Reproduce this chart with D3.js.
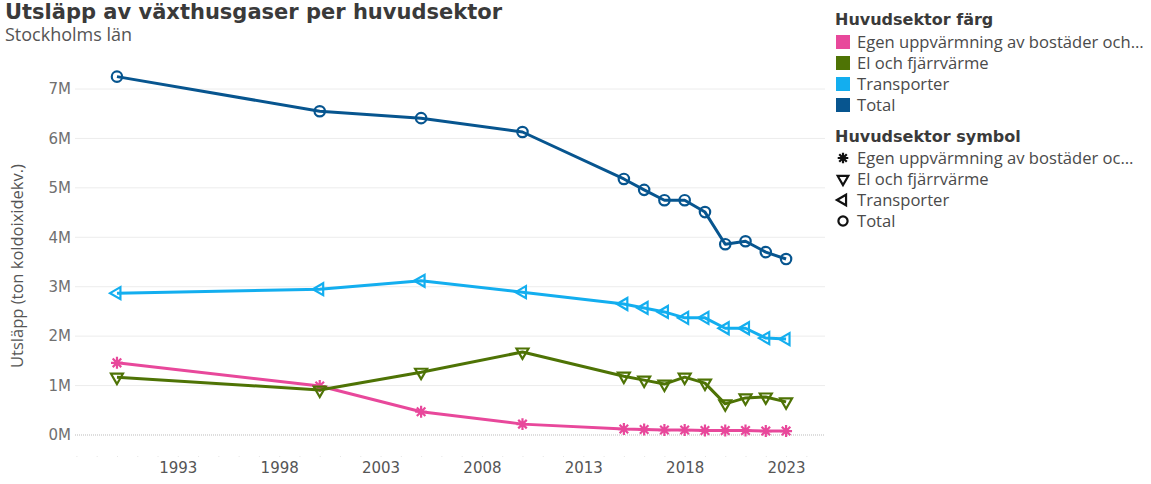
<!DOCTYPE html>
<html>
<head>
<meta charset="utf-8">
<script src="https://cdn.jsdelivr.net/npm/d3@7"></script>
<style>
  body { margin: 0; background: #fff; }
  svg { display: block; }
</style>
</head>
<body>
<div id="chart"></div>
<script>
// data
var years = [1990, 2000, 2005, 2010, 2015, 2016, 2017, 2018, 2019, 2020, 2021, 2022, 2023];
var egenUppvarmning = [1.46, 0.99, 0.47, 0.22, 0.12, 0.11, 0.10, 0.10, 0.09, 0.09, 0.09, 0.08, 0.08];
var elFjarrvarme = [1.17, 0.91, 1.27, 1.68, 1.19, 1.11, 1.03, 1.17, 1.05, 0.63, 0.75, 0.77, 0.67];
var transporter = [2.87, 2.95, 3.12, 2.89, 2.65, 2.57, 2.49, 2.37, 2.37, 2.16, 2.16, 1.96, 1.94];
var total = [7.25, 6.55, 6.41, 6.13, 5.18, 4.96, 4.75, 4.75, 4.51, 3.86, 3.92, 3.70, 3.56];
var yTicks = [0, 1, 2, 3, 4, 5, 6, 7];
var xTicks = [1993, 1998, 2003, 2008, 2013, 2018, 2023];
var sectorNames = ["Egen uppvärmning av bostäder och…", "El och fjärrvärme", "Transporter", "Total"];
var symbolNames = ["Egen uppvärmning av bostäder oc…", "El och fjärrvärme", "Transporter", "Total"];
var sectorColors = ["#E8489B", "#4E7305", "#13AEEF", "#07558F"];
var sectorShapes = ["asterisk", "down", "left", "circle"];

var series = [egenUppvarmning, elFjarrvarme, transporter, total];

var W = 1151, H = 484;
var svg = d3.select("#chart").append("svg").attr("width", W).attr("height", H);

var x = d3.scaleLinear().domain([1987.93, 2024.92]).range([75, 825]);
var y = d3.scaleLinear().domain([0, 7]).range([435, 89]);

// title
svg.append("text").attr("x", 5).attr("y", 19)
    .style("font-family", "DejaVu Sans").style("font-weight", "bold")
    .style("font-size", "21px").attr("fill", "#3a3a3a")
    .text("Utsläpp av växthusgaser per huvudsektor");
svg.append("text").attr("x", 5).attr("y", 41)
    .style("font-family", "Open Sans").style("font-size", "18px").attr("fill", "#555")
    .text("Stockholms län");

// grid
svg.append("g").selectAll("line").data(yTicks.filter(d => d > 0)).join("line")
    .attr("x1", 75).attr("x2", 825)
    .attr("y1", d => y(d)).attr("y2", d => y(d))
    .attr("stroke", "#ececec").attr("stroke-width", 1);
svg.append("line").attr("x1", 75).attr("x2", 825).attr("y1", y(0)).attr("y2", y(0))
    .attr("stroke", "#bbb").attr("stroke-width", 1).attr("stroke-dasharray", "1,1");

// y axis
var yAxis = svg.append("g").attr("transform", "translate(71,0)")
    .call(d3.axisLeft(y).tickValues(yTicks).tickFormat(d => d + "M").tickSize(0).tickPadding(0));
yAxis.select(".domain").remove();
yAxis.selectAll("text").style("font-family", "DejaVu Sans").style("font-size", "15px").attr("fill", "#707070");

svg.append("text")
    .attr("transform", "translate(23," + 266 + ") rotate(-90)")
    .attr("text-anchor", "middle")
    .style("font-family", "Open Sans").style("font-size", "16.5px").attr("fill", "#555")
    .text("Utsläpp (ton koldoixidekv.)");

// x axis: minor ticks each year, labels every 5 years
var allYears = d3.range(1988, 2025);
var xMinor = svg.append("g").attr("transform", "translate(0,456)")
    .call(d3.axisBottom(x).tickValues(allYears).tickFormat("").tickSize(1));
xMinor.select(".domain").remove();
xMinor.selectAll("line").attr("stroke", "#e6e6e6");
var xAxis = svg.append("g").attr("transform", "translate(0,462)")
    .call(d3.axisBottom(x).tickValues(xTicks).tickFormat(d3.format("d")).tickSize(0).tickPadding(0));
xAxis.select(".domain").remove();
xAxis.selectAll("text").style("font-family", "DejaVu Sans").style("font-size", "15px")
    .attr("fill", "#555").attr("dy", "0.72em");

// markers
function markerPath(shape, s) {
    if (shape === "circle") return d3.symbol(d3.symbolCircle, s * s * Math.PI)();
    if (shape === "asterisk") {
        var a = s * 1.15, c = s * 0.82;
        return "M0," + a + "V" + (-a) + "M" + a + ",0H" + (-a) +
            "M" + c + "," + c + "L" + (-c) + "," + (-c) + "M" + c + "," + (-c) + "L" + (-c) + "," + c;
    }
    return d3.symbol(d3.symbolTriangle, s * s * 2.3)();
}
function markerRot(shape) {
    if (shape === "down") return 180;
    if (shape === "left") return -90;
    return 0;
}

var line = d3.line().x((d, i) => x(years[i])).y(d => y(d));

series.forEach(function (vals, k) {
    var g = svg.append("g");
    g.append("path").datum(vals).attr("d", line)
        .attr("fill", "none").attr("stroke", sectorColors[k]).attr("stroke-width", 3)
        .attr("stroke-linejoin", "round");
    g.selectAll("path.m").data(vals).join("path").attr("class", "m")
        .attr("d", markerPath(sectorShapes[k], 5.2))
        .attr("transform", (d, i) => "translate(" + x(years[i]) + "," + y(d) + ") rotate(" + markerRot(sectorShapes[k]) + ")")
        .attr("fill", "none").attr("stroke", sectorColors[k]).attr("stroke-width", 2.2);
});

// legend
var lg = svg.append("g");
lg.append("text").attr("x", 835).attr("y", 25)
    .style("font-family", "DejaVu Sans").style("font-weight", "bold").style("font-size", "16px")
    .attr("fill", "#3a3a3a").text("Huvudsektor färg");
sectorNames.forEach(function (n, i) {
    var cy = 42 + i * 21;
    lg.append("rect").attr("x", 836).attr("y", cy - 7).attr("width", 14).attr("height", 14)
        .attr("fill", sectorColors[i]);
    lg.append("text").attr("x", 857).attr("y", cy).attr("dy", "0.36em")
        .style("font-family", "Open Sans").style("font-size", "16.6px").attr("fill", "#4a4a4a").text(n);
});
lg.append("text").attr("x", 835).attr("y", 142)
    .style("font-family", "DejaVu Sans").style("font-weight", "bold").style("font-size", "16px")
    .attr("fill", "#3a3a3a").text("Huvudsektor symbol");
symbolNames.forEach(function (n, i) {
    var cy = 158 + i * 21;
    lg.append("path").attr("d", markerPath(sectorShapes[i], 4.6))
        .attr("transform", "translate(843," + cy + ") rotate(" + markerRot(sectorShapes[i]) + ")")
        .attr("fill", "none").attr("stroke", "#111").attr("stroke-width", 2.2);
    lg.append("text").attr("x", 857).attr("y", cy).attr("dy", "0.36em")
        .style("font-family", "Open Sans").style("font-size", "16.6px").attr("fill", "#4a4a4a").text(n);
});
</script>
</body>
</html>
